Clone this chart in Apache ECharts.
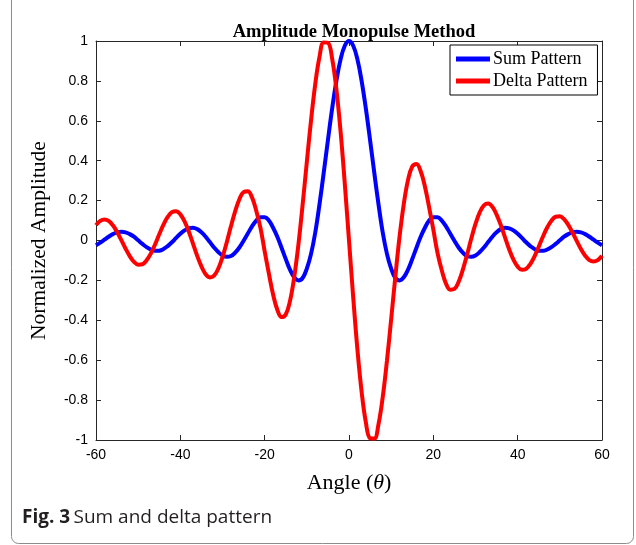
<!DOCTYPE html>
<html>
<head>
<meta charset="utf-8">
<script src="https://cdn.jsdelivr.net/npm/echarts@6/dist/echarts.min.js"></script>
<style>
  html, body { margin: 0; padding: 0; background: #fff; }
  #main { width: 636px; height: 545px; }
</style>
</head>
<body>
<div id="main"></div>
<script>
// angle in degrees
const angles = [
  -60, -59, -58, -57, -56, -55, -54, -53, -52, -51, -50,
  -49, -48, -47, -46, -45, -44, -43, -42, -41, -40,
  -39, -38, -37, -36, -35, -34, -33, -32, -31, -30,
  -29, -28, -27, -26, -25, -24, -23, -22, -21, -20,
  -19, -18, -17, -16, -15, -14, -13, -12, -11, -10,
  -9, -8, -7, -6, -5, -4, -3, -2, -1, 0,
  1, 2, 3, 4, 5, 6, 7, 8, 9, 10,
  11, 12, 13, 14, 15, 16, 17, 18, 19, 20,
  21, 22, 23, 24, 25, 26, 27, 28, 29, 30,
  31, 32, 33, 34, 35, 36, 37, 38, 39, 40,
  41, 42, 43, 44, 45, 46, 47, 48, 49, 50,
  51, 52, 53, 54, 55, 56, 57, 58, 59, 60
]

// sum pattern
const sumPattern = [
  -0.024, -0.011, 0.004, 0.019, 0.032, 0.041, 0.044, 0.041, 0.032, 0.019, 0.001,
  -0.017, -0.033, -0.045, -0.052, -0.051, -0.043, -0.028, -0.009, 0.013, 0.034,
  0.051, 0.061, 0.064, 0.057, 0.041, 0.019, -0.008, -0.035, -0.058, -0.075,
  -0.082, -0.078, -0.061, -0.035, -0.001, 0.035, 0.071, 0.100, 0.117, 0.117,
  0.100, 0.064, 0.019, -0.036, -0.093, -0.146, -0.184, -0.200, -0.188, -0.141,
  -0.067, 0.040, 0.181, 0.339, 0.503, 0.661, 0.799, 0.908, 0.976, 1.000,
  0.976, 0.908, 0.799, 0.661, 0.503, 0.339, 0.181, 0.040, -0.067, -0.141,
  -0.188, -0.200, -0.184, -0.146, -0.093, -0.036, 0.019, 0.064, 0.100, 0.117,
  0.117, 0.100, 0.071, 0.035, -0.001, -0.035, -0.061, -0.078, -0.082, -0.075,
  -0.058, -0.035, -0.008, 0.019, 0.041, 0.057, 0.064, 0.061, 0.051, 0.034,
  0.013, -0.009, -0.028, -0.043, -0.051, -0.052, -0.045, -0.033, -0.017, 0.001,
  0.019, 0.032, 0.041, 0.044, 0.041, 0.032, 0.019, 0.004, -0.011, -0.024
]

// delta pattern
const deltaPattern = [
  0.077, 0.098, 0.105, 0.098, 0.076, 0.043, 0.002, -0.040, -0.078, -0.107, -0.121,
  -0.119, -0.099, -0.065, -0.020, 0.031, 0.079, 0.118, 0.142, 0.147, 0.131,
  0.096, 0.045, -0.016, -0.077, -0.130, -0.169, -0.185, -0.176, -0.141, -0.083,
  -0.010, 0.071, 0.146, 0.207, 0.243, 0.247, 0.216, 0.149, 0.063, -0.054,
  -0.166, -0.271, -0.347, -0.384, -0.371, -0.304, -0.184, -0.021, 0.179, 0.394,
  0.603, 0.785, 0.920, 0.993, 0.991, 0.912, 0.760, 0.547, 0.285, 0,
  -0.285, -0.547, -0.760, -0.912, -0.991, -0.993, -0.920, -0.785, -0.603, -0.394,
  -0.179, 0.021, 0.184, 0.304, 0.371, 0.384, 0.347, 0.271, 0.166, 0.054,
  -0.063, -0.149, -0.216, -0.247, -0.243, -0.207, -0.146, -0.071, 0.010, 0.083,
  0.141, 0.176, 0.185, 0.169, 0.130, 0.077, 0.016, -0.045, -0.096, -0.131,
  -0.147, -0.142, -0.118, -0.079, -0.031, 0.020, 0.065, 0.099, 0.119, 0.121,
  0.107, 0.078, 0.040, -0.002, -0.043, -0.076, -0.098, -0.105, -0.098, -0.077
]

const seriesNames = ['Sum Pattern', 'Delta Pattern']

const pairs = (ys) => angles.map((a, i) => [a, ys[i]])

const serif = '"Liberation Serif", "DejaVu Serif", serif'
const sans = '"Liberation Sans", Arial, sans-serif'
const axisColor = '#262626'

let chartDom = document.getElementById('main')
let myChart = echarts.init(chartDom, null, {renderer: 'canvas'})

// 四边都画刻度(类似 matlab 的 box on)
const tickStyle = {inside: true, length: 5, lineStyle: {color: axisColor}}
const lineStyle = {show: true, onZero: false, lineStyle: {color: axisColor, width: 1}}

let option = {
  animation: false,
  backgroundColor: '#fff',
  title: {
    text: 'Amplitude Monopulse Method',
    left: 349,
    top: 18,
    textAlign: 'center',
    textStyle: {fontFamily: serif, fontSize: 18.5, fontWeight: 'bold', color: '#000'}
  },
  legend: {
    data: seriesNames,
    orient: 'vertical',
    left: 450,
    top: 45,
    padding: [5, 10, 5, 6],
    itemGap: 4,
    itemWidth: 34,
    itemHeight: 5,
    icon: 'rect',
    backgroundColor: '#fff',
    borderColor: '#000',
    borderWidth: 1,
    borderRadius: 0,
    textStyle: {fontFamily: serif, fontSize: 18, color: '#000', padding: [0, 0, 0, -2]}
  },
  grid: {left: 96, right: 34, top: 41, bottom: 105},
  xAxis: [
    {
      type: 'value',
      min: -60,
      max: 60,
      interval: 20,
      name: '{a|Angle (}{i|θ}{a|)}',
      nameLocation: 'middle',
      nameGap: 32,
      nameTextStyle: {
        rich: {
          a: {fontFamily: serif, fontSize: 22, color: '#000'},
          i: {fontFamily: serif, fontSize: 22, fontStyle: 'italic', color: '#000'}
        }
      },
      axisLine: lineStyle,
      axisTick: tickStyle,
      axisLabel: {fontFamily: sans, fontSize: 14, color: '#000', margin: 8},
      splitLine: {show: false}
    },
    {
      type: 'value',
      position: 'top',
      min: -60,
      max: 60,
      interval: 20,
      axisLine: lineStyle,
      axisTick: tickStyle,
      axisLabel: {show: false},
      splitLine: {show: false}
    }
  ],
  yAxis: [
    {
      type: 'value',
      min: -1,
      max: 1,
      interval: 0.2,
      name: 'Normalized Amplitude',
      nameLocation: 'middle',
      nameGap: 46,
      nameTextStyle: {fontFamily: serif, fontSize: 21.5, color: '#000'},
      axisLine: lineStyle,
      axisTick: tickStyle,
      axisLabel: {fontFamily: sans, fontSize: 14, color: '#000', margin: 8},
      splitLine: {show: false}
    },
    {
      type: 'value',
      position: 'right',
      min: -1,
      max: 1,
      interval: 0.2,
      axisLine: lineStyle,
      axisTick: Object.assign({show: true}, tickStyle),
      axisLabel: {show: false},
      splitLine: {show: false}
    }
  ],
  series: [
    {
      name: seriesNames[0],
      type: 'line',
      data: pairs(sumPattern),
      smooth: 0.4,
      showSymbol: false,
      color: '#0000ff',
      lineStyle: {color: '#0000ff', width: 4}
    },
    {
      name: seriesNames[1],
      type: 'line',
      data: pairs(deltaPattern),
      smooth: 0.4,
      showSymbol: false,
      color: '#ff0000',
      lineStyle: {color: '#ff0000', width: 4}
    }
  ],
  graphic: [
    {
      type: 'rect',
      silent: true,
      shape: {x: 11.5, y: -20, width: 622, height: 563.5, r: 7},
      style: {fill: 'none', stroke: '#8c8c8c', lineWidth: 1}
    },
    {
      type: 'text',
      left: 22,
      top: 508,
      style: {
        text: '{b|Fig. 3} {n|Sum and delta pattern}',
        rich: {
          b: {fontFamily: '"Open Sans", "Noto Sans", sans-serif', fontSize: 19, fontWeight: 'bold', fill: '#231f20'},
          n: {fontFamily: '"Open Sans", "Noto Sans", sans-serif', fontSize: 19, fill: '#231f20'}
        }
      }
    }
  ]
}

myChart.setOption(option)
</script>
</body>
</html>
